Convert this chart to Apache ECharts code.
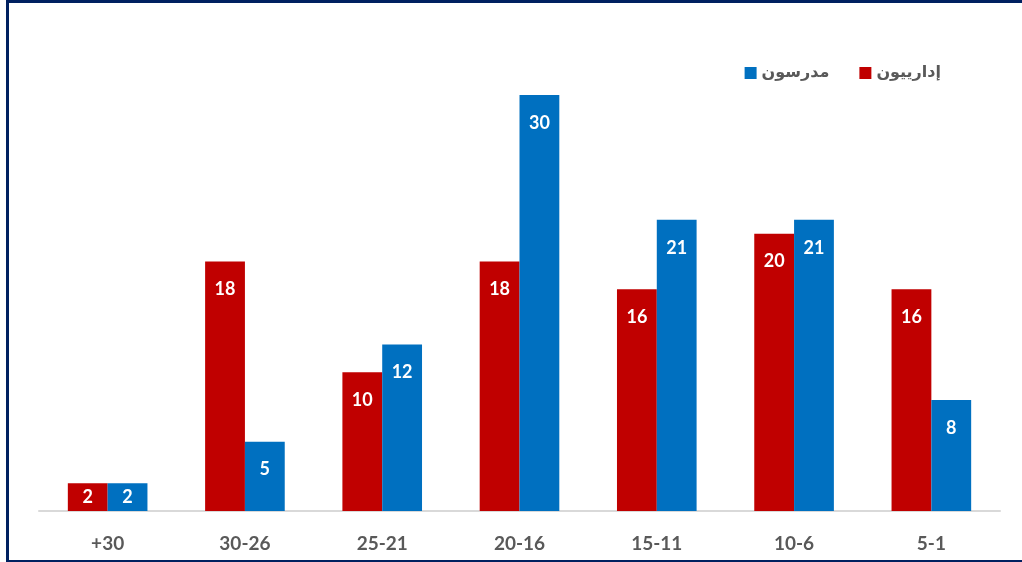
<!DOCTYPE html>
<html><head><meta charset="utf-8">
<script src="https://cdn.jsdelivr.net/npm/echarts@6/dist/echarts.min.js"></script>
<style>
html,body{margin:0;padding:0;background:#fff;}
#frame{position:absolute;left:6px;top:0;width:1030px;height:557px;border:3px solid #002060;box-sizing:content-box;}
#c{position:absolute;left:0;top:0;width:1022px;height:562px;}
</style></head>
<body>
<div id="frame"></div>
<div id="c"></div>
<script>
const categories = ['+30','30-26','25-21','20-16','15-11','10-6','5-1'];
const adminName = 'إدارييون';
const teacherName = 'مدرسون';
const adminValues = [2,18,10,18,16,20,16];
const teacherValues = [2,5,12,30,21,21,8];

const font = "Lato, 'DejaVu Sans', sans-serif";
function items(vals){
  return vals.map(v => v < 4 ? {value:v, label:{position:'inside'}} : v);
}
const labelStyle = {show:true, position:'insideTop', distance:19, color:'#fff', fontWeight:'bold', fontSize:18, fontFamily:font};
const chart = echarts.init(document.getElementById('c'));
chart.setOption({
  animation:false,
  grid:{left:39, right:22, top:95, bottom:51},
  legend:{
    data:[teacherName, adminName], right:76, top:60, icon:'rect', itemWidth:12, itemHeight:12, itemGap:30, itemStyle:{borderWidth:0},
    textStyle:{color:'#595959', fontSize:16, fontWeight:'bold', fontFamily:"'DejaVu Sans', sans-serif"}
  },
  xAxis:{type:'category', data:categories,
    axisLine:{lineStyle:{color:'#d9d9d9', width:2}}, axisTick:{show:false},
    axisLabel:{color:'#595959', fontSize:19, fontWeight:'bold', margin:23, fontFamily:font}},
  yAxis:{type:'value', min:0, max:30, show:false},
  series:[
    {name:adminName, type:'bar', data:items(adminValues), barWidth:'29%', barGap:'0%', itemStyle:{color:'#C00000'}, label:labelStyle},
    {name:teacherName, type:'bar', data:items(teacherValues), barWidth:'29%', barGap:'0%', itemStyle:{color:'#0070C0'}, label:labelStyle}
  ]
});
</script>
</body></html>
